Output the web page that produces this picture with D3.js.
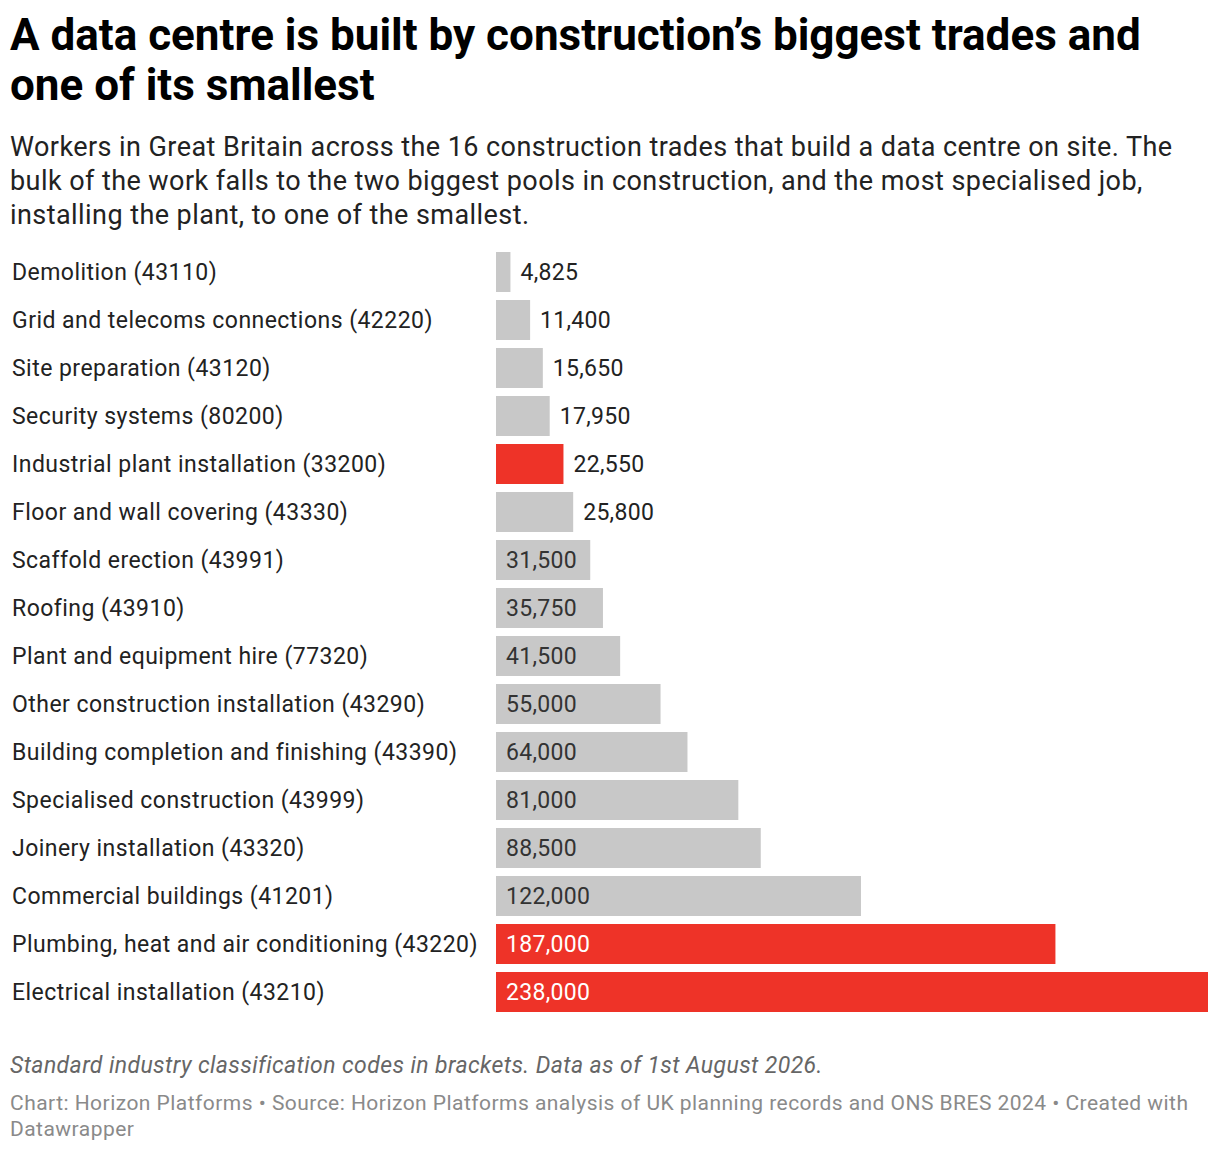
<!DOCTYPE html>
<html>
<head>
<meta charset="utf-8">
<script src="https://cdn.jsdelivr.net/npm/d3@7"></script>
<style>
  body { margin: 0; background: #fff; font-family: Roboto, sans-serif; }
  svg text { font-family: Roboto, sans-serif; }
</style>
</head>
<body>
<div id="chart"></div>
<script>
const trades = [
  'Demolition (43110)',
  'Grid and telecoms connections (42220)',
  'Site preparation (43120)',
  'Security systems (80200)',
  'Industrial plant installation (33200)',
  'Floor and wall covering (43330)',
  'Scaffold erection (43991)',
  'Roofing (43910)',
  'Plant and equipment hire (77320)',
  'Other construction installation (43290)',
  'Building completion and finishing (43390)',
  'Specialised construction (43999)',
  'Joinery installation (43320)',
  'Commercial buildings (41201)',
  'Plumbing, heat and air conditioning (43220)',
  'Electrical installation (43210)'
];
const workers = [4825, 11400, 15650, 17950, 22550, 25800, 31500, 35750, 41500, 55000, 64000, 81000, 88500, 122000, 187000, 238000];
const highlighted = ['Industrial plant installation (33200)', 'Plumbing, heat and air conditioning (43220)', 'Electrical installation (43210)'];

const titleLines = ['A data centre is built by construction\u2019s biggest trades and', 'one of its smallest'];
const subtitleLines = [
  'Workers in Great Britain across the 16 construction trades that build a data centre on site. The',
  'bulk of the work falls to the two biggest pools in construction, and the most specialised job,',
  'installing the plant, to one of the smallest.'
];
const noteText = 'Standard industry classification codes in brackets. Data as of 1st August 2026.';
const creditLines = [
  'Chart: Horizon Platforms \u2022 Source: Horizon Platforms analysis of UK planning records and ONS BRES 2024 \u2022 Created with',
  'Datawrapper'
];

const width = 1220, height = 1152;
const barLeft = 496, barRight = 1208;
const rowTop = 252, rowStep = 48;

const svg = d3.select('#chart').append('svg')
  .attr('width', width).attr('height', height);

// title and description
svg.append('g').selectAll('text')
  .data(titleLines).join('text')
  .attr('x', 10).attr('y', (d, i) => 50 + i * 50)
  .attr('font-size', 44).attr('font-weight', 700).attr('fill', '#000')
  .text(d => d);

svg.append('g').selectAll('text')
  .data(subtitleLines).join('text')
  .attr('x', 10).attr('y', (d, i) => 156 + i * 34)
  .attr('font-size', 27).attr('letter-spacing', 0.43).attr('fill', '#222')
  .text(d => d);

const x = d3.scaleLinear().domain([0, d3.max(workers)]).range([barLeft, barRight]);
const y = d3.scaleBand().domain(trades)
  .range([rowTop - 4, rowTop - 4 + rowStep * trades.length])
  .paddingInner(8 / 48).paddingOuter(4 / 48);

const rows = trades.map((t, i) => ({ name: t, value: workers[i], hi: highlighted.includes(t) }));
const fmt = d3.format(',');

const row = svg.append('g').selectAll('g')
  .data(rows).join('g');

row.append('text')
  .attr('x', 12)
  .attr('y', d => y(d.name) + y.bandwidth() / 2)
  .attr('dy', '0.35em')
  .attr('font-size', 23).attr('letter-spacing', 0.46).attr('fill', '#222')
  .text(d => d.name);

row.append('rect')
  .attr('x', x(0))
  .attr('y', d => y(d.name))
  .attr('width', d => x(d.value) - x(0))
  .attr('height', y.bandwidth())
  .attr('fill', d => d.hi ? '#ee3328' : '#c8c8c8');

// value labels go inside the bar when it is wide enough
row.append('text')
  .attr('y', d => y(d.name) + y.bandwidth() / 2)
  .attr('dy', '0.35em')
  .attr('font-size', 23).attr('letter-spacing', 0.3)
  .each(function (d) {
    const inside = x(d.value) - x(0) > 88;
    d3.select(this)
      .attr('x', inside ? x(0) + 10 : x(d.value) + 10)
      .attr('fill', inside ? (d.hi ? '#fff' : '#333') : '#222');
  })
  .text(d => fmt(d.value));

// notes and credits
svg.append('text')
  .attr('x', 10).attr('y', 1073)
  .attr('font-size', 23).attr('letter-spacing', 0.4).attr('font-style', 'italic').attr('fill', '#666')
  .text(noteText);

svg.append('g').selectAll('text')
  .data(creditLines).join('text')
  .attr('x', 10).attr('y', (d, i) => 1110 + i * 26)
  .attr('font-size', 21).attr('letter-spacing', 0.46).attr('fill', '#8a8a8a')
  .text(d => d);
</script>
</body>
</html>
